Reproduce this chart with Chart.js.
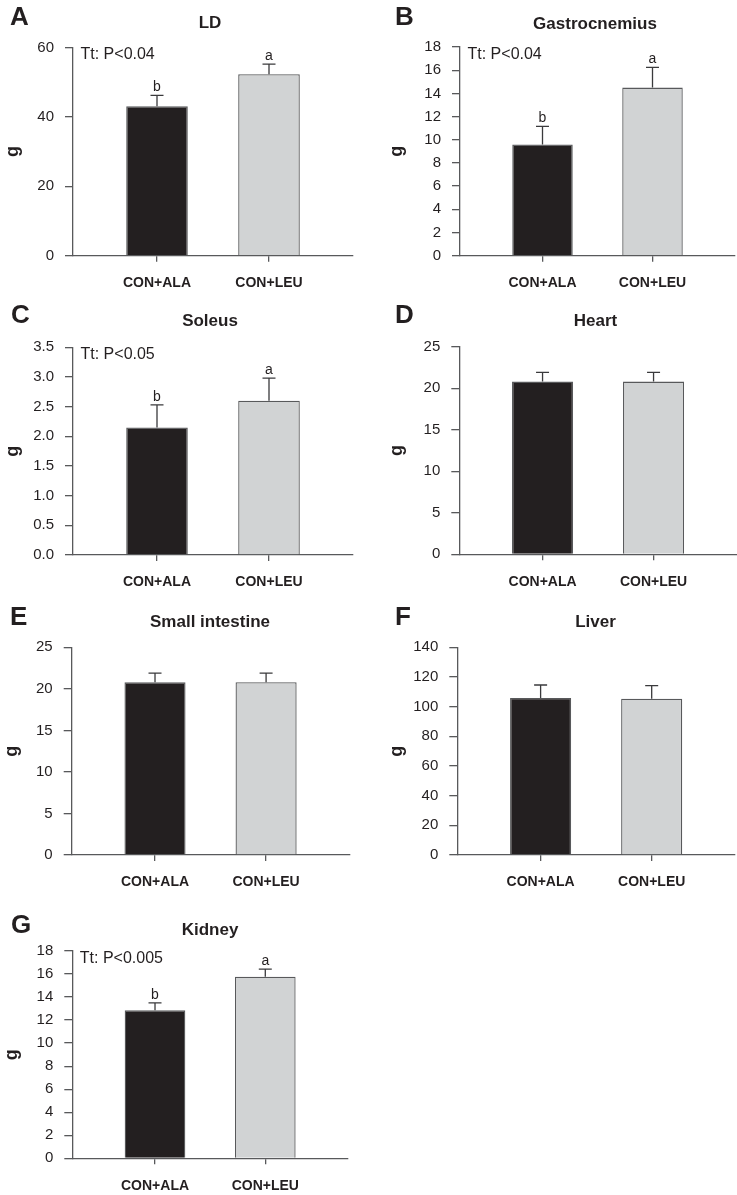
<!DOCTYPE html>
<html><head><meta charset="utf-8">
<script src="https://cdn.jsdelivr.net/npm/chart.js@4.4.1/dist/chart.umd.min.js"></script>
<style>
html,body{margin:0;padding:0;background:#fff;}
#wrap{position:relative;width:737px;height:1195px;overflow:hidden;background:#fff;}
canvas{position:absolute;}
</style></head><body><div id="wrap"></div>
<script>
// ---------- data ----------
const categories = ['CON+ALA', 'CON+LEU'];

const ldMean = [43.1, 52.3];
const ldSem = [3.1, 2.9];
const ldSig = ['b', 'a'];
const ldTicks = [0, 20, 40, 60];

const gasMean = [9.6, 14.5];
const gasSem = [1.55, 1.75];
const gasSig = ['b', 'a'];
const gasTicks = [0, 2, 4, 6, 8, 10, 12, 14, 16, 18];

const solMean = [2.15, 2.60];
const solSem = [0.38, 0.38];
const solSig = ['b', 'a'];
const solTicks = [0, 0.5, 1.0, 1.5, 2.0, 2.5, 3.0, 3.5];

const heartMean = [20.8, 20.8];
const heartSem = [1.1, 1.1];
const heartTicks = [0, 5, 10, 15, 20, 25];

const siMean = [20.8, 20.8];
const siSem = [1.1, 1.1];
const siTicks = [0, 5, 10, 15, 20, 25];

const liverMean = [105.8, 105.3];
const liverSem = [8.8, 8.8];
const liverTicks = [0, 20, 40, 60, 80, 100, 120, 140];

const kidMean = [12.85, 15.77];
const kidSem = [0.65, 0.66];
const kidSig = ['b', 'a'];
const kidTicks = [0, 2, 4, 6, 8, 10, 12, 14, 16, 18];

// ---------- layout / style ----------
const FONT = '"Liberation Sans", Arial, Helvetica, sans-serif';
const TXT = '#231f20';
const AX = '#58595b';
const barFill = ['#231f20', '#d1d3d4'];
const CW = 369, CH = 330, YW = 60, XH = 42;

const panels = [
  {letter:'A', title:'LD', mean:ldMean, sem:ldSem, sig:ldSig, test:'Tt: P<0.04', ticks:ldTicks, dec:0,
   ox:0, oy:0, L:73, R:353, T:47.5, B:255.7, lx:10, ly:25, tx:210, ty:27.5, gx:17.5},
  {letter:'B', title:'Gastrocnemius', mean:gasMean, sem:gasSem, sig:gasSig, test:'Tt: P<0.04', ticks:gasTicks, dec:0,
   ox:368, oy:0, L:460, R:735, T:47, B:255.7, lx:395, ly:25, tx:595, ty:28.5, gx:402},
  {letter:'C', title:'Soleus', mean:solMean, sem:solSem, sig:solSig, test:'Tt: P<0.05', ticks:solTicks, dec:1,
   ox:0, oy:290, L:73, R:353, T:347.3, B:555, lx:11, ly:322.5, tx:210, ty:326, gx:17.5},
  {letter:'D', title:'Heart', mean:heartMean, sem:heartSem, sig:null, test:null, ticks:heartTicks, dec:0,
   ox:368, oy:290, L:459.3, R:736.8, T:346.7, B:554.3, lx:395, ly:323, tx:595.5, ty:326, gx:402},
  {letter:'E', title:'Small intestine', mean:siMean, sem:siSem, sig:null, test:null, ticks:siTicks, dec:0,
   ox:0, oy:580, L:71.7, R:349.4, T:647.3, B:855, lx:10, ly:625, tx:210, ty:627.3, gx:17},
  {letter:'F', title:'Liver', mean:liverMean, sem:liverSem, sig:null, test:null, ticks:liverTicks, dec:0,
   ox:368, oy:580, L:457.3, R:735, T:647.3, B:855, lx:395, ly:625, tx:595.5, ty:627.3, gx:402},
  {letter:'G', title:'Kidney', mean:kidMean, sem:kidSem, sig:kidSig, test:'Tt: P<0.005', ticks:kidTicks, dec:0,
   ox:0, oy:880, L:72.3, R:348, T:951, B:1158.3, lx:11, ly:933, tx:210, ty:935, gx:17}
];

const wrap = document.getElementById('wrap');

function makePanel(p) {
  const c = document.createElement('canvas');
  c.width = CW; c.height = CH;
  c.style.left = p.ox + 'px'; c.style.top = p.oy + 'px';
  c.style.width = CW + 'px'; c.style.height = CH + 'px';
  wrap.appendChild(c);
  const L = p.L - p.ox, R = p.R - p.ox, T = p.T - p.oy, B = p.B - p.oy;

  const annot = {
    id: 'annot' + p.letter,
    afterDatasetsDraw(chart) {
      const ctx = chart.ctx;
      const ys = chart.scales.y;
      const meta = chart.getDatasetMeta(0);
      ctx.save();
      ctx.strokeStyle = '#3a3a3c';
      ctx.lineWidth = 1.3;
      p.mean.forEach((m, i) => {
        const x = meta.data[i].x;
        const y0 = ys.getPixelForValue(m);
        const y1 = ys.getPixelForValue(m + p.sem[i]);
        ctx.beginPath();
        ctx.moveTo(x, y0); ctx.lineTo(x, y1);
        ctx.moveTo(x - 6.5, y1); ctx.lineTo(x + 6.5, y1);
        ctx.stroke();
        if (p.sig) {
          ctx.fillStyle = TXT;
          ctx.font = '14px ' + FONT;
          ctx.textAlign = 'center';
          ctx.textBaseline = 'alphabetic';
          ctx.fillText(p.sig[i], x, y1 - 4);
        }
      });
      ctx.restore();
    },
    afterDraw(chart) {
      const ctx = chart.ctx;
      const ca = chart.chartArea;
      ctx.save();
      ctx.fillStyle = TXT;
      ctx.textBaseline = 'alphabetic';
      // panel letter
      ctx.font = 'bold 26px ' + FONT;
      ctx.textAlign = 'left';
      ctx.fillText(p.letter, p.lx - p.ox, p.ly - p.oy);
      // title
      ctx.font = 'bold 17px ' + FONT;
      ctx.textAlign = 'center';
      ctx.fillText(p.title, p.tx - p.ox, p.ty - p.oy);
      // test annotation
      if (p.test) {
        ctx.font = '16px ' + FONT;
        ctx.textAlign = 'left';
        ctx.fillText(p.test, ca.left + 7.5, ca.top + 11.5);
      }
      // y axis title
      ctx.save();
      ctx.translate(p.gx - p.ox, (ca.top + ca.bottom) / 2);
      ctx.rotate(-Math.PI / 2);
      ctx.font = 'bold 18px ' + FONT;
      ctx.textAlign = 'center';
      ctx.fillText('g', 0, 0);
      ctx.restore();
      ctx.restore();
    }
  };

  new Chart(c, {
    type: 'bar',
    data: {
      datasets: [{
        data: p.mean.map((v, i) => ({x: i, y: v})),
        backgroundColor: barFill,
        borderColor: AX,
        borderWidth: 1.3,
        barPercentage: 0.55,
        categoryPercentage: 1
      }]
    },
    options: {
      responsive: false,
      animation: false,
      devicePixelRatio: 1,
      layout: {padding: {left: L - YW, right: CW - R, top: T, bottom: CH - B - XH}},
      plugins: {legend: {display: false}, tooltip: {enabled: false}, title: {display: false}},
      scales: {
        x: {
          type: 'linear', min: -0.75, max: 1.75, offset: false,
          afterBuildTicks: s => { s.ticks = categories.map((_, i) => ({value: i})); },
          afterFit: s => { s.height = XH; },
          ticks: {callback: v => categories[v], font: {family: FONT, size: 14, weight: 'bold'}, color: TXT,
                  padding: 13, maxRotation: 0, minRotation: 0, autoSkip: false},
          grid: {drawOnChartArea: false, offset: false, tickLength: 6, color: AX, lineWidth: 1.3},
          border: {color: AX, width: 1.3}
        },
        y: {
          min: 0, max: p.ticks[p.ticks.length - 1],
          afterBuildTicks: s => { s.ticks = p.ticks.map(v => ({value: v})); },
          afterFit: s => { s.width = YW; },
          ticks: {callback: v => Number(v).toFixed(p.dec), font: {family: FONT, size: 15}, color: TXT, padding: 11},
          grid: {drawOnChartArea: false, tickLength: 8, color: AX, lineWidth: 1.3},
          border: {color: AX, width: 1.3}
        }
      }
    },
    plugins: [annot]
  });
}

panels.forEach(makePanel);
</script>
</body></html>
